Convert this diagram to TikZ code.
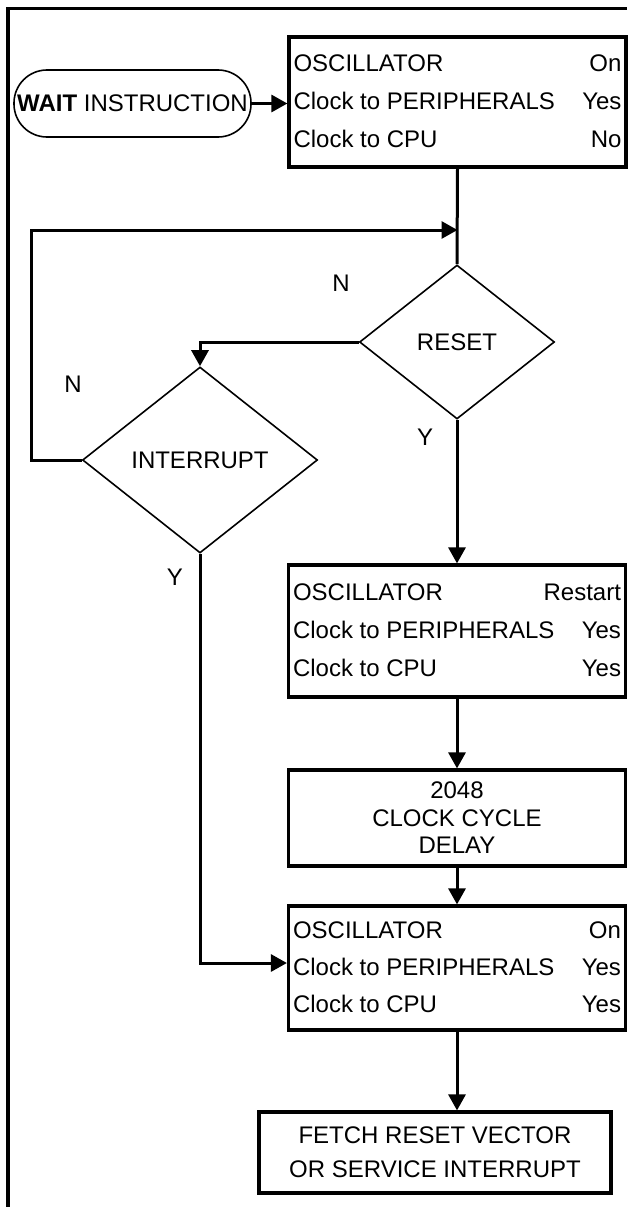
\documentclass[tikz,border=0pt]{standalone}
\usepackage{fontspec}
\setmainfont{Liberation Sans}
\usetikzlibrary{positioning,shapes.geometric,arrows.meta}

\begin{document}
\begin{tikzpicture}[x=1pt,y=-1pt]
		\tikzset{
  state/.style={
         rectangle,
         draw=black, line width=3.2pt,
         minimum width=337pt,
         inner sep=0,
         text centered,
         font=\fontsize{24}{38}\selectfont,
         },
  decision/.style={
         diamond,
         draw=black, line width=1.6pt,
         inner sep=0,
         font=\fontsize{24}{27}\selectfont,
         },
  flow/.style={
         line width=3pt,
         -{Triangle[length=16pt,width=17pt]},
         },
  label/.style={font=\fontsize{24}{27}\selectfont},
}

    \useasboundingbox (0,0) rectangle (627,1207);

    % frame
    \draw[line width=3.2pt] (8,1207) -- (8,8.5) -- (627,8.5);

    \node[state, minimum height=130pt] (oscwait) at (457.5,102)
    {
      \begin{tabular}{@{}p{328pt}@{}}
        OSCILLATOR \hfill On\\
        Clock to PERIPHERALS \hfill Yes\\
        Clock to CPU \hfill No
      \end{tabular}
    };

    \node[draw=black, line width=1.6pt,
      rounded corners=33pt,
      minimum width=237pt,
      minimum height=67pt,
      inner sep=0,
      font=\fontsize{24}{27}\selectfont] (wait) at (132.5,103.5)
    {\textbf{WAIT} INSTRUCTION};

    \node[decision,
      minimum width=195pt,
      minimum height=154pt] (reset) at (457,342) {RESET};

    \node[decision,
      minimum width=235pt,
      minimum height=186pt] (interrupt) at (200,460) {INTERRUPT};

    \node[state,
      below of=reset,
      node distance=289pt,
      minimum height=132pt,
      anchor=center] (oscrestart)
    {
      \begin{tabular}{@{}p{328pt}@{}}
        OSCILLATOR \hfill Restart\\
        Clock to PERIPHERALS \hfill Yes\\
        Clock to CPU \hfill Yes
      \end{tabular}
    };

    \node[state,
      below of=oscrestart,
      node distance=187pt,
      minimum height=96pt,
      anchor=center,
      font=\fontsize{24}{27.5}\selectfont,
      align=center] (delay)
    {2048\\CLOCK CYCLE\\ DELAY};

    \node[state,
      below of=delay,
      node distance=150pt,
      minimum height=124pt,
      anchor=center,
      font=\fontsize{24}{37}\selectfont] (oscrun)
    {
      \begin{tabular}{@{}p{328pt}@{}}
        OSCILLATOR \hfill On\\
        Clock to PERIPHERALS \hfill Yes\\
        Clock to CPU \hfill Yes
      \end{tabular}
    };

    \node[state,
      minimum width=352pt,
      minimum height=81pt,
      font=\fontsize{24}{34}\selectfont,
      align=center] (fetch) at (435,1152.5)
    {FETCH RESET VECTOR\\OR SERVICE INTERRUPT};

    \coordinate (join) at (oscwait.south |- 0,230);

    \draw[flow] (wait) -- (oscwait.west |- wait);
    \draw[line width=3pt] (oscwait.south) -- (reset.north);
    \draw[flow] (interrupt.west) -- ++(-50,0) |- (join);
    \draw[flow] (reset.west) -| (interrupt.north);
    \draw[flow] (reset.south) -- (oscrestart.north);
    \draw[flow] (oscrestart.south) -- (delay.north);
    \draw[flow] (delay.south) -- (oscrun.north);
    \draw[flow] (interrupt.south) |- ([yshift=5pt]oscrun.west);
    \draw[flow] (oscrun.south) -- (oscrun.south |- fetch.north);

    \node[label] (resetno) at (341,283) {N};
    \node[label] (resetyes) at (425,437) {Y};
    \node[label] (intno) at (73,384) {N};
    \node[label] (intyes) at (175,577) {Y};

	\end{tikzpicture}
\end{document}
